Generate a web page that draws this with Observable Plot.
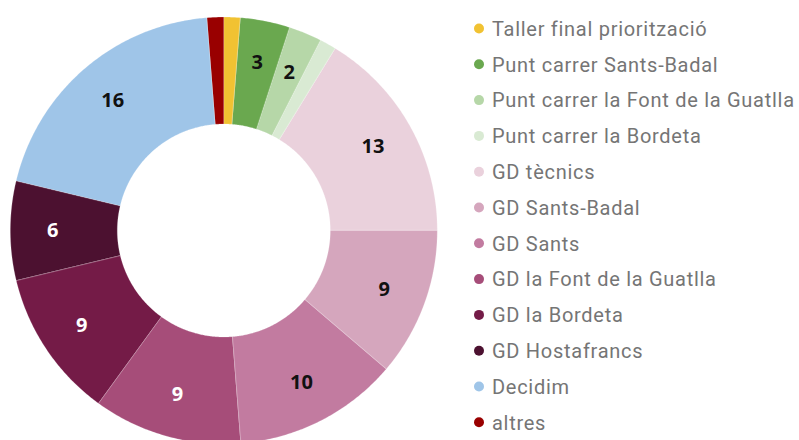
<!DOCTYPE html>
<html>
<head>
<meta charset="utf-8">
<script src="https://cdn.jsdelivr.net/npm/d3@7"></script>
<script src="https://cdn.jsdelivr.net/npm/@observablehq/plot@0.6"></script>
<style>
  html, body { margin: 0; padding: 0; background: #fff; }
  #wrap { display: flex; width: 799px; height: 440px; overflow: hidden; }
</style>
</head>
<body>
<div id="wrap"></div>
<script>
const categories = [
  "Taller final priorització",
  "Punt carrer Sants-Badal",
  "Punt carrer la Font de la Guatlla",
  "Punt carrer la Bordeta",
  "GD tècnics",
  "GD Sants-Badal",
  "GD Sants",
  "GD la Font de la Guatlla",
  "GD la Bordeta",
  "GD Hostafrancs",
  "Decidim",
  "altres"
];
const values = [1, 3, 2, 1, 13, 9, 10, 9, 9, 6, 16, 1];
const colors = [
  "#f1c232", "#6aa84f", "#b6d7a8", "#d9ead3",
  "#ead1dc", "#d5a6bd", "#c27ba0", "#a64d79",
  "#741b47", "#4c1130", "#9fc5e8", "#990000"
];

const R_OUT = 213.5, R_IN = 106.5, R_LABEL = 171;
const total = d3.sum(values);

// slice geometry from d3.pie (clockwise from 12 o'clock)
const pie = d3.pie().sort(null).value(d => d.value)(
  categories.map((c, i) => ({category: c, value: values[i], color: colors[i]}))
);

const polyPts = [];
const labels = [];
pie.forEach(s => {
  const a0 = s.startAngle, a1 = s.endAngle;
  const n = Math.max(2, Math.ceil((a1 - a0) / (Math.PI / 360)));
  for (let k = 0; k <= n; k++) {
    const a = a0 + (a1 - a0) * k / n;
    polyPts.push({key: s.data.category, color: s.data.color, x: R_OUT * Math.sin(a), y: R_OUT * Math.cos(a)});
  }
  for (let k = n; k >= 0; k--) {
    const a = a0 + (a1 - a0) * k / n;
    polyPts.push({key: s.data.category, color: s.data.color, x: R_IN * Math.sin(a), y: R_IN * Math.cos(a)});
  }
  const m = (a0 + a1) / 2;
  if (s.data.value / total >= 0.02) {
    labels.push({
      x: R_LABEL * Math.sin(m), y: R_LABEL * Math.cos(m),
      text: String(s.data.value),
      fill: d3.lab(s.data.color).l < 50 ? "#ffffff" : "#111111"
    });
  }
});

const chart = Plot.plot({
  width: 450,
  height: 440,
  margin: 0,
  x: {domain: [-223.3, 226.7], axis: null},
  y: {domain: [-210, 230], axis: null},
  color: {type: "identity"},
  style: {background: "#fff"},
  marks: [
    Plot.line(polyPts, {x: "x", y: "y", z: "key", fill: "color", stroke: "#fff", strokeWidth: 0.25, strokeOpacity: 0.8, curve: "linear-closed"}),
    Plot.text(labels, {x: "x", y: "y", text: "text", fill: "fill", fontFamily: "Open Sans", fontWeight: "bold", fontSize: 20})
  ]
});

document.getElementById("wrap").appendChild(chart);

// legend on the right
const legW = 349, legX0 = 450;
const leg = d3.create("svg")
  .attr("width", legW).attr("height", 440)
  .style("display", "block");
const rows = leg.selectAll("g").data(categories).join("g")
  .attr("transform", (d, i) => `translate(0,${28.5 + i * 35.8})`);
rows.append("circle").attr("cx", 479 - legX0).attr("cy", 0).attr("r", 5)
  .attr("fill", (d, i) => colors[i]);
rows.append("text").attr("x", 492 - legX0).attr("y", 7.3)
  .attr("font-family", "Roboto").attr("font-size", 20).attr("fill", "#757575")
  .attr("letter-spacing", "0.72px")
  .style("font-variant-ligatures", "none")
  .text(d => d);
document.getElementById("wrap").appendChild(leg.node());
</script>
</body>
</html>
